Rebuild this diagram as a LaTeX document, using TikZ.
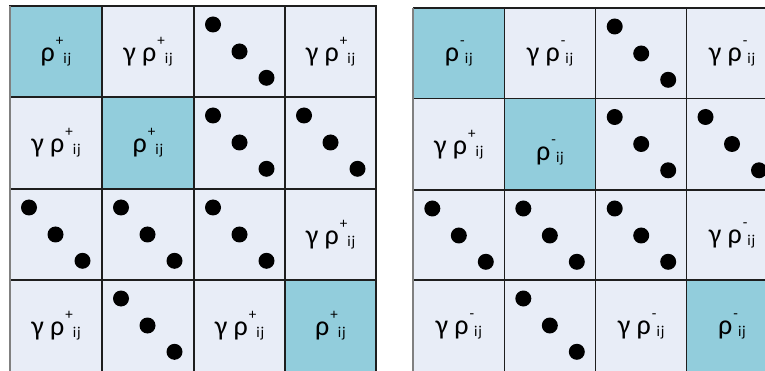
\documentclass[tikz,border=0pt]{standalone}
\usepackage{fontspec}
\setmainfont{Carlito}
\definecolor{celllight}{RGB}{232,237,247}
\definecolor{cellteal}{RGB}{146,205,220}
\definecolor{gridline}{RGB}{30,30,30}
\definecolor{edgegray}{RGB}{128,128,128}
\newcommand{\supsub}[1]{\raisebox{16pt}{\fontsize{15}{15}\selectfont #1}\raisebox{-2pt}{\fontsize{15}{15}\selectfont i\kern0.8pt j}}
\newcommand{\Rho}[1]{ρ\kern1pt\supsub{#1}}
\newcommand{\GRho}[1]{γ ρ\kern1pt\supsub{#1}}
% cell: name, x0, y0, x1, y1, fill style, content
\newcommand{\mycell}[7]{%
  \path[#6] (#2,#3) rectangle (#4,#5);
  \node[lbl] (#1) at ({(#2+#4)/2},{(#3+#5)/2}) {#7};}
\newcommand{\dotcell}[5]{%
  \path[cellbox,fill=celllight] (#2,#3) rectangle (#4,#5);
  \node[dotmark] (#1a) at ({#2+19},{#3+18.5}) {};
  \node[dotmark] (#1b) at ({#2+45.5},{#3+45.5}) {};
  \node[dotmark] (#1c) at ({#2+72.5},{#3+71.8}) {};}
\begin{document}
\begin{tikzpicture}[x=1pt,y=-1pt,
  cellbox/.style={draw=gridline,line width=1.5pt},
  lightcell/.style={cellbox,fill=celllight},
  tealcell/.style={cellbox,fill=cellteal},
  dotmark/.style={circle,fill=black,inner sep=0pt,minimum size=16pt},
  lbl/.style={inner sep=0pt,font=\fontsize{28}{28}\selectfont}]
\useasboundingbox (0,0) rectangle (765,371);
\clip (0,0) rectangle (765,371);
% ---------- left grid ----------
% row 0
\mycell{L00}{10}{6}{102}{97}{tealcell}{\Rho{+}}
\mycell{L01}{102}{6}{194}{97}{lightcell}{\GRho{+}}
\dotcell{L02}{194}{6}{285}{97}
\mycell{L03}{285}{6}{376}{97}{lightcell}{\GRho{+}}
% row 1
\mycell{L10}{10}{97}{102}{189}{lightcell}{\GRho{+}}
\mycell{L11}{102}{97}{194}{189}{tealcell}{\Rho{+}}
\dotcell{L12}{194}{97}{285}{189}
\dotcell{L13}{285}{97}{376}{189}
% row 2
\dotcell{L20}{10}{189}{102}{280}
\dotcell{L21}{102}{189}{194}{280}
\dotcell{L22}{194}{189}{285}{280}
\mycell{L23}{285}{189}{376}{280}{lightcell}{\GRho{+}}
% row 3
\mycell{L30}{10}{280}{102}{372}{lightcell}{\GRho{+}}
\dotcell{L31}{102}{280}{194}{372}
\mycell{L32}{194}{280}{285}{372}{lightcell}{\GRho{+}}
\mycell{L33}{285}{280}{376}{372}{tealcell}{\Rho{+}}
\draw[edgegray,line width=2pt] (10,6) -- (10,372);
% ---------- right grid ----------
% row 0
\mycell{R00}{413.3}{8}{504.3}{98.5}{tealcell}{\Rho{-}}
\mycell{R01}{504.3}{8}{595.7}{98.5}{lightcell}{\GRho{-}}
\dotcell{R02}{595.7}{8}{686.5}{98.5}
\mycell{R03}{686.5}{8}{777.5}{98.5}{lightcell}{\GRho{-}}
% row 1
\mycell{R10}{413.3}{98.5}{504.3}{190}{lightcell}{\GRho{+}}
\path[tealcell] (504.3,98.5) rectangle (595.7,190);
\node[lbl] (R11) at (550,152) {\Rho{-}};
\dotcell{R12}{595.7}{98.5}{686.5}{190}
\dotcell{R13}{686.5}{98.5}{777.5}{190}
% row 2
\dotcell{R20}{413.3}{190}{504.3}{280}
\dotcell{R21}{504.3}{190}{595.7}{280}
\dotcell{R22}{595.7}{190}{686.5}{280}
\mycell{R23}{686.5}{190}{777.5}{280}{lightcell}{\GRho{-}}
% row 3
\mycell{R30}{413.3}{280}{504.3}{372}{lightcell}{\GRho{-}}
\dotcell{R31}{504.3}{280}{595.7}{372}
\mycell{R32}{595.7}{280}{686.5}{372}{lightcell}{\GRho{-}}
\mycell{R33}{686.5}{280}{777.5}{372}{tealcell}{\Rho{-}}
\draw[edgegray,line width=2pt] (413.3,8) -- (413.3,372);
\end{tikzpicture}
\end{document}
